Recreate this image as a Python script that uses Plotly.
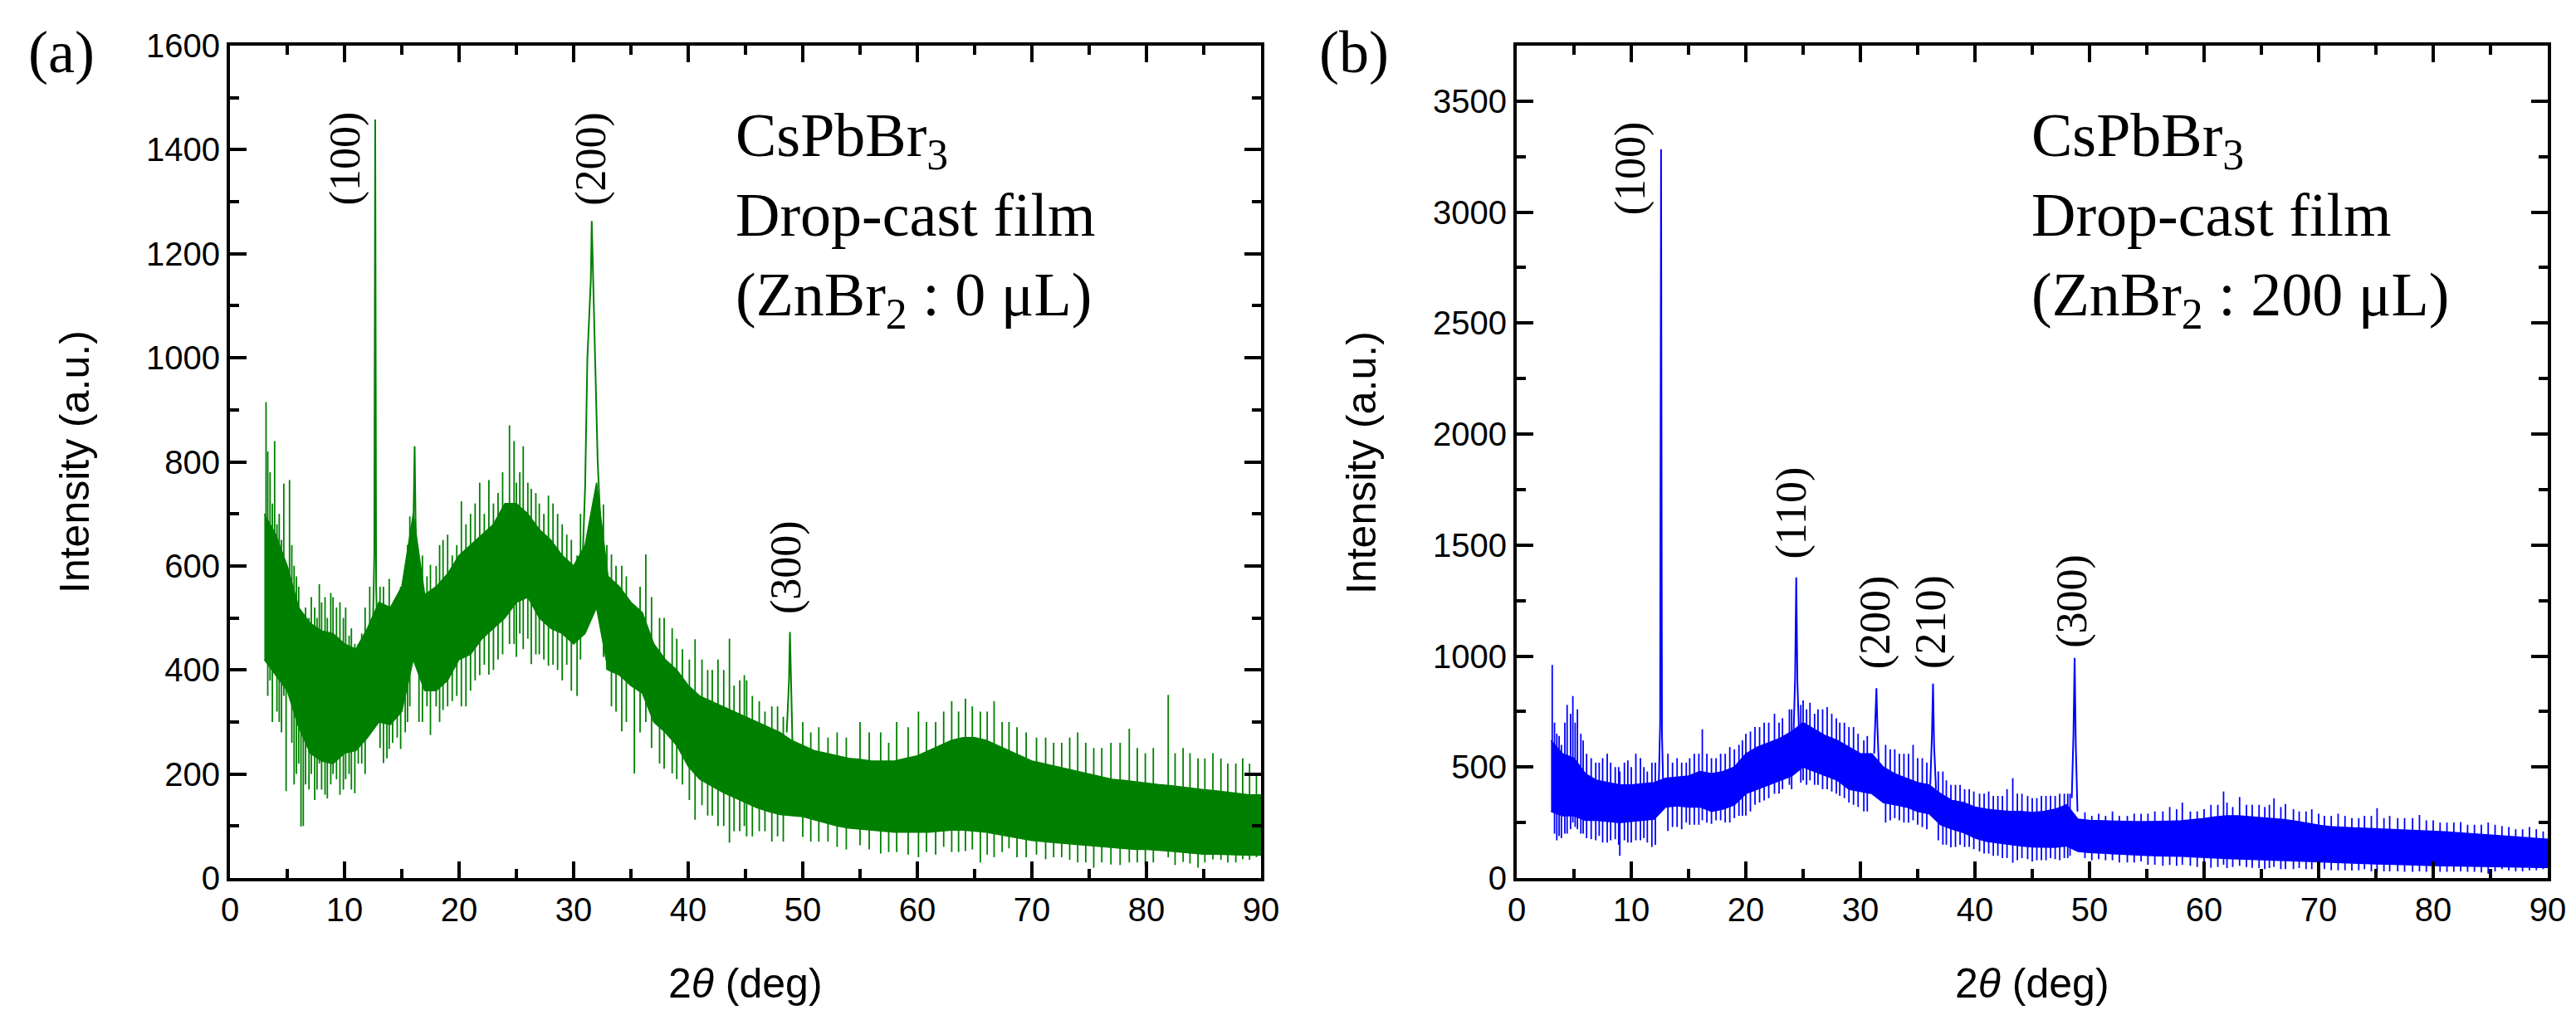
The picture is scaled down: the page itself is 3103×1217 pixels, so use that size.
import plotly.graph_objects as go

# ---- panel (a): ZnBr2 0 uL, green ----
env_x = list(range(3, 91))  # 2theta grid for the dense noise band

a_hi = [700, 660, 600, 520, 490, 475, 470, 450, 440, 480, 530, 520, 560, 700, 545, 560, 585, 620,
        640, 660, 680, 720, 720, 700, 670, 650, 620, 600, 640, 760, 580, 560, 530, 510, 450, 420,
        400, 370, 350, 340, 330, 320, 310, 300, 290, 280, 265, 255, 245, 240, 235, 230, 228, 225,
        225, 225, 230, 235, 245, 255, 265, 270, 270, 265, 255, 245, 235, 225, 220, 215, 210, 205,
        200, 195, 190, 188, 185, 182, 180, 178, 175, 172, 170, 168, 165, 162, 160, 160]
a_lo = [420, 390, 360, 290, 240, 225, 220, 240, 245, 270, 300, 295, 320, 420, 360, 360, 380, 420,
        430, 460, 480, 500, 530, 540, 500, 480, 470, 450, 470, 520, 400, 390, 370, 355, 300, 280,
        255, 215, 190, 178, 165, 155, 145, 135, 128, 122, 120, 118, 112, 106, 100, 96, 94, 92,
        90, 88, 88, 88, 88, 90, 92, 92, 90, 88, 84, 80, 76, 72, 70, 68, 66, 64,
        62, 60, 58, 56, 55, 55, 54, 52, 50, 48, 46, 46, 45, 44, 44, 44]

# single noise strokes sticking out of the band: position, bottom, top
a_stroke_x = [3.15, 3.5, 3.9, 4.3, 4.7, 5.2, 5.6, 6.0, 6.4, 6.9, 7.4, 7.8, 8.3, 8.8, 9.3, 9.9, 10.4,
              10.9, 11.5, 13.4, 13.9, 14.6, 15.3, 15.7, 16.5, 17.5, 18.6, 19.4, 20.2, 21.0, 21.8,
              22.6, 23.4, 24.4, 25.0, 25.6, 26.3, 27.0, 27.8, 28.6, 29.4, 30.3, 32.6, 33.3, 34.2,
              35.3, 36.3, 37.5, 38.6, 39.5, 40.6, 41.7, 42.6, 43.6, 44.5, 45.1, 46.2, 47.3, 50.0,
              51.4, 53.0, 55.0, 56.8, 58.2, 60.1, 61.6, 63.0, 64.2, 65.5, 66.7, 68.0, 69.5, 71.2,
              72.6, 74.0, 75.4, 76.9, 78.5, 79.9, 81.9, 83.2, 84.5, 85.8, 87.1, 88.4, 89.6,
              3.3, 3.7, 4.1, 4.5, 4.9, 5.4, 5.8, 6.2, 6.6, 7.1, 7.6, 8.0, 8.5, 9.0, 9.6, 10.1, 10.6,
              11.2, 11.8, 12.2, 13.1, 13.7, 14.2, 14.9, 15.5, 16.8, 17.2, 18.0, 18.3, 19.0, 19.8,
              20.6, 21.4, 22.2, 23.0, 23.8, 24.8, 25.3, 26.0, 26.7, 27.4, 28.2, 29.0, 29.8, 30.6,
              32.9, 33.7, 34.6, 35.8, 36.8, 37.9, 39.0, 40.1, 41.2, 42.1, 43.1, 44.0, 44.9, 45.6,
              46.7, 47.8, 48.3, 50.7, 52.2, 53.8, 55.8, 57.5, 59.2, 60.8, 62.3, 63.6, 64.8, 66.1,
              67.4, 68.7, 70.4, 71.9, 73.3, 74.7, 76.1, 77.7, 79.2, 80.6, 82.5, 83.8, 85.1, 86.5,
              87.8, 89.0]
a_stroke_lo = [420, 380, 420, 300, 350, 380, 180, 220, 100, 170, 150, 220, 160, 180, 190, 170, 200,
               163, 220, 221, 248, 270, 280, 330, 300, 275, 323, 340, 330, 360, 390, 391, 420, 450,
               425, 440, 411, 430, 408, 400, 410, 350, 425, 330, 282, 201, 300, 220, 201, 180, 112,
               120, 100, 68, 90, 80, 90, 70, 79, 70, 60, 63, 47, 50, 40, 45, 50, 52, 30, 40, 57, 40,
               36, 40, 30, 20, 26, 30, 25, 40, 31, 20, 36, 30, 36, 40,
               350, 300, 320, 280, 167, 260, 200, 99, 180, 200, 170, 170, 153, 200, 160, 190, 170,
               220, 200, 300, 250, 230, 260, 248, 300, 300, 330, 330, 300, 330, 350, 330, 380, 410,
               400, 430, 450, 470, 460, 430, 420, 410, 380, 360, 420, 400, 320, 300, 280, 250, 210,
               190, 150, 140, 120, 100, 90, 100, 80, 90, 80, 70, 70, 70, 55, 55, 50, 45, 50, 60, 50,
               55, 45, 50, 40, 45, 40, 35, 30, 30, 25, 30, 30, 25, 28, 30, 35, 30, 35]
a_stroke_hi = [915, 780, 840, 700, 758, 765, 600, 560, 450, 500, 520, 565, 540, 548, 520, 500, 466,
               450, 470, 560, 575, 540, 600, 695, 600, 602, 650, 620, 724, 700, 760, 765, 740, 870,
               760, 830, 748, 720, 735, 700, 660, 620, 718, 622, 600, 520, 622, 500, 480, 440, 459,
               400, 420, 460, 380, 380, 340, 330, 300, 290, 280, 300, 280, 300, 320, 300, 340, 345,
               320, 340, 300, 280, 270, 260, 280, 250, 260, 287, 240, 352, 250, 230, 240, 220, 230,
               200,
               820, 720, 680, 650, 560, 640, 580, 480, 520, 540, 500, 530, 500, 540, 530, 520, 480,
               450, 520, 560, 560, 520, 500, 560, 640, 620, 580, 600, 640, 660, 640, 680, 720, 700,
               720, 780, 840, 780, 760, 740, 700, 720, 680, 650, 700, 640, 600, 580, 560, 540, 500,
               460, 420, 420, 400, 400, 370, 390, 350, 320, 330, 310, 280, 270, 270, 280, 260, 290,
               300, 320, 320, 330, 320, 300, 290, 270, 260, 270, 260, 250, 260, 250, 250, 240, 240,
               230, 230, 220, 220]

# Bragg peaks
a_peak_x = [[12.45, 12.6, 12.68, 12.76, 12.9],
            [15.9, 16.05, 16.12, 16.2, 16.4],
            [30.7, 31.0, 31.2, 31.35, 31.5, 31.58, 31.7, 31.85, 32.1, 32.4],
            [48.6, 48.8, 48.88, 48.95, 49.1]]
a_peak_y = [[450, 620, 1458, 560, 430],
            [520, 700, 830, 690, 520],
            [560, 750, 1000, 1080, 1150, 1263, 1170, 1020, 800, 650],
            [280, 380, 473, 390, 260]]

a_label_text = ['(100)', '(200)', '(300)']
a_label_x = [10.1, 31.5, 48.5]
a_label_y = [1383, 1383, 597]

# ---- panel (b): ZnBr2 200 uL, blue ----
b_hi = [620, 560, 540, 470, 440, 430, 420, 420, 425, 430, 450, 455, 460, 480, 470, 480, 500, 560,
        590, 610, 630, 660, 700, 670, 640, 620, 590, 560, 560, 500, 470, 450, 430, 420, 380, 350,
        340, 320, 310, 305, 300, 300, 295, 300, 310, 330, 265, 260, 258, 258, 256, 254, 254, 254,
        256, 258, 262, 268, 276, 280, 280, 276, 272, 270, 264, 256, 246, 238, 232, 228, 226, 224,
        222, 220, 218, 216, 214, 211, 208, 205, 201, 197, 193, 189, 185, 181, 177, 175]
b_lo = [300, 280, 280, 260, 260, 255, 250, 255, 260, 265, 320, 325, 320, 320, 300, 310, 330, 380,
        400, 420, 440, 460, 500, 480, 460, 440, 400, 390, 380, 340, 330, 320, 300, 290, 240, 220,
        205, 180, 165, 158, 150, 145, 140, 138, 138, 145, 120, 115, 112, 110, 108, 105, 102, 100,
        100, 98, 95, 92, 90, 88, 86, 84, 82, 80, 78, 76, 74, 72, 70, 68, 66, 65,
        64, 63, 62, 60, 58, 56, 55, 54, 53, 52, 50, 50, 49, 48, 48, 48]

b_stroke_x = [3.1, 3.5, 3.9, 4.4, 4.9, 5.3, 5.8, 6.5, 7.2, 7.9, 8.6, 9.0, 9.7, 10.4, 11.1, 11.8,
              13.2, 14.0, 14.8, 15.5, 16.2, 17.0, 17.8, 18.6, 19.4, 20.0, 20.8, 21.6, 22.5, 23.2,
              23.8, 25.0, 25.6, 26.3, 27.1, 27.9, 28.6, 29.4, 30.6, 32.2, 33.0, 33.8, 34.6, 35.4,
              37.2, 37.9, 38.7, 39.5, 40.4, 41.2, 42.0, 42.8, 43.3, 44.1, 45.0, 45.8, 46.6, 47.4,
              48.1, 49.6, 50.8, 52.0, 53.3, 54.5, 55.7, 57.0, 58.1, 59.4, 60.6, 61.7, 62.5, 63.1,
              64.2, 65.3, 66.1, 67.1, 68.3, 69.4, 70.5, 71.7, 72.9, 74.0, 75.1, 76.2, 77.5, 78.8,
              80.0, 81.2, 82.4, 83.6, 84.8, 86.0, 87.2, 88.4, 89.6,
              3.3, 3.7, 4.2, 4.7, 5.1, 5.6, 6.1, 6.9, 7.5, 8.2, 8.9, 9.4, 10.0, 10.8, 11.4, 12.1,
              13.6, 14.4, 15.1, 15.9, 16.6, 17.4, 18.2, 19.0, 19.7, 20.4, 21.2, 22.0, 22.9, 24.0,
              24.8, 25.3, 26.0, 26.7, 27.5, 28.2, 29.0, 29.8, 30.3, 32.6, 33.4, 34.2, 35.0, 35.8,
              36.8, 37.5, 38.3, 39.1, 39.9, 40.8, 41.6, 42.4, 43.7, 44.6, 45.4, 46.2, 47.0, 47.8,
              48.3, 50.2, 51.4, 52.6, 53.9, 55.1, 56.4, 57.6, 58.8, 60.0, 61.2, 62.0, 63.7, 64.8,
              65.7, 66.7, 67.8, 68.9, 70.0, 71.1, 72.3, 73.5, 74.6, 75.7, 76.9, 78.2, 79.4, 80.6,
              81.8, 83.0, 84.2, 85.4, 86.6, 87.8, 89.0]
b_stroke_lo = [350, 170, 180, 200, 250, 220, 200, 175, 190, 160, 175, 100, 160, 170, 180, 140, 212,
               230, 250, 240, 260, 244, 260, 250, 280, 281, 330, 350, 380, 400, 420, 440, 440, 420,
               400, 380, 360, 330, 300, 250, 270, 250, 260, 230, 150, 138, 150, 140, 120, 110, 100,
               90, 69, 90, 75, 80, 90, 80, 90, 90, 85, 80, 70, 75, 60, 59, 60, 50, 46, 60, 50, 55,
               46, 40, 50, 40, 45, 40, 40, 35, 34, 40, 30, 30, 28, 30, 28, 28, 30, 28, 20, 40, 30,
               35, 40,
               200, 190, 200, 220, 230, 200, 180, 170, 160, 170, 150, 170, 160, 170, 160, 150, 230,
               220, 240, 240, 250, 260, 250, 270, 280, 300, 340, 360, 380, 400, 430, 420, 420, 400,
               390, 370, 340, 320, 300, 260, 260, 250, 240, 220, 170, 150, 140, 140, 130, 110, 100,
               90, 80, 85, 80, 80, 85, 90, 100, 80, 80, 70, 70, 60, 55, 55, 55, 50, 50, 45, 50, 45,
               45, 40, 40, 40, 38, 35, 35, 35, 30, 30, 30, 28, 28, 28, 28, 28, 25, 30, 35, 30, 35]
b_stroke_hi = [960, 650, 600, 780, 820, 760, 620, 540, 520, 560, 500, 480, 530, 560, 500, 520, 560,
               540, 520, 560, 670, 540, 560, 590, 600, 650, 680, 700, 740, 720, 760, 800, 790, 760,
               770, 720, 700, 680, 640, 600, 580, 560, 600, 540, 480, 420, 420, 400, 380, 390, 370,
               400, 450, 380, 360, 370, 371, 380, 380, 296, 290, 300, 280, 290, 300, 320, 340, 300,
               330, 390, 320, 365, 330, 320, 359, 334, 300, 310, 280, 290, 270, 280, 315, 280, 270,
               284, 260, 250, 252, 240, 250, 234, 220, 230, 210,
               700, 640, 700, 740, 700, 650, 560, 520, 540, 520, 500, 520, 500, 540, 480, 520, 520,
               520, 540, 560, 560, 540, 560, 580, 620, 660, 680, 700, 700, 760, 780, 760, 740, 760,
               740, 700, 680, 650, 620, 580, 560, 560, 540, 520, 480, 440, 420, 400, 390, 380, 370,
               370, 380, 370, 360, 370, 370, 380, 380, 280, 280, 280, 290, 290, 300, 310, 300, 310,
               330, 340, 330, 330, 330, 320, 310, 300, 290, 280, 280, 270, 280, 270, 270, 270, 260,
               250, 250, 240, 240, 240, 230, 220, 220]

b_peak_x = [[12.4, 12.52, 12.6, 12.68, 12.8],
            [24.15, 24.3, 24.4, 24.5, 24.65],
            [31.2, 31.32, 31.4, 31.48, 31.6],
            [36.1, 36.25, 36.34, 36.43, 36.6],
            [48.45, 48.6, 48.7, 48.8, 48.95]]
b_peak_y = [[420, 700, 3283, 650, 380],
            [620, 900, 1354, 880, 650],
            [560, 700, 855, 690, 520],
            [420, 650, 876, 600, 400],
            [360, 650, 992, 600, 300]]

b_label_text = ['(100)', '(110)', '(200)', '(210)', '(300)']
b_label_x = [9.9, 24.0, 31.3, 36.2, 48.5]
b_label_y = [3198, 1644, 1154, 1154, 1247]

SANS = 'Liberation Sans'
SERIF = 'Liberation Serif'
W, H = 3103, 1217

fig = go.Figure()


def add_panel(xa, ya, color, hi, lo, sx, slo, shi, px, py):
    # dense band
    fig.add_trace(go.Scatter(x=env_x, y=hi, mode='lines', line=dict(color=color, width=1.5),
                             xaxis=xa, yaxis=ya, showlegend=False, hoverinfo='skip'))
    fig.add_trace(go.Scatter(x=env_x, y=lo, mode='lines', line=dict(color=color, width=1.5),
                             fill='tonexty', fillcolor=color, xaxis=xa, yaxis=ya,
                             showlegend=False, hoverinfo='skip'))
    # strokes
    xs, ys = [], []
    for x, l, h in zip(sx, slo, shi):
        xs += [x, x, None]
        ys += [l, h, None]
    fig.add_trace(go.Scatter(x=xs, y=ys, mode='lines', line=dict(color=color, width=1.8),
                             xaxis=xa, yaxis=ya, showlegend=False, hoverinfo='skip'))
    # peaks
    for x, y in zip(px, py):
        fig.add_trace(go.Scatter(x=x, y=y, mode='lines', line=dict(color=color, width=2),
                                 xaxis=xa, yaxis=ya, showlegend=False))


add_panel('x', 'y', '#008000', a_hi, a_lo, a_stroke_x, a_stroke_lo, a_stroke_hi, a_peak_x, a_peak_y)
add_panel('x2', 'y2', '#0000FF', b_hi, b_lo, b_stroke_x, b_stroke_lo, b_stroke_hi, b_peak_x, b_peak_y)

ydom = [1 - 1050 / H, 1 - 47 / H]
axis_common = dict(showline=True, linewidth=4, linecolor='black', mirror='allticks',
                   ticks='inside', ticklen=20, tickwidth=4, tickcolor='black',
                   showgrid=False, zeroline=False, automargin=False,
                   tickfont=dict(family=SANS, size=40, color='black'))

fig.update_layout(
    template='none',
    width=W, height=H, margin=dict(l=0, r=0, t=0, b=0),
    paper_bgcolor='white', plot_bgcolor='white',
    xaxis=dict(domain=[269 / W, 1511 / W], range=[0, 90], dtick=10, anchor='y',
               minor=dict(dtick=5, ticklen=11, tickwidth=4, ticks='inside', tickcolor='black'),
               **axis_common),
    yaxis=dict(domain=ydom, range=[0, 1600], dtick=200, anchor='x',
               minor=dict(dtick=100, ticklen=11, tickwidth=4, ticks='inside', tickcolor='black'),
               **axis_common),
    xaxis2=dict(domain=[1819 / W, 3061 / W], range=[0, 90], dtick=10, anchor='y2',
                minor=dict(dtick=5, ticklen=11, tickwidth=4, ticks='inside', tickcolor='black'),
                **axis_common),
    yaxis2=dict(domain=ydom, range=[0, 3750], dtick=500, anchor='x2',
                minor=dict(dtick=250, ticklen=11, tickwidth=4, ticks='inside', tickcolor='black'),
                **axis_common),
)


def paper_text(txt, px_, py_, size, family, angle=0):
    return dict(text=txt, x=px_ / W, y=1 - py_ / H, xref='paper', yref='paper',
                xanchor='center', yanchor='middle', textangle=angle, showarrow=False,
                font=dict(family=family, size=size, color='black'))


ann = []
# panel letters
ann.append(paper_text('(a)', 66, 55, 72, SERIF))
ann.append(paper_text('(b)', 1623, 55, 72, SERIF))
# sample description
for txt, px_ in [('CsPbBr<sub>3</sub><br>Drop-cast film<br>(ZnBr<sub>2</sub> : 0 μL)', 876),
                 ('CsPbBr<sub>3</sub><br>Drop-cast film<br>(ZnBr<sub>2</sub> : 200 μL)', 2437)]:
    ann.append(dict(text=txt, x=px_ / W, y=1 - 112 / H, xref='paper', yref='paper',
                    xanchor='left', yanchor='top', align='left', showarrow=False,
                    font=dict(family=SERIF, size=74, color='black')))
# axis titles
for cx in [890, 2440]:
    ann.append(paper_text('2<i>θ</i> (deg)', cx, 1177, 50, SANS))
for cx in [82, 1632]:
    ann.append(paper_text('Intensity (a.u.)', cx, 549, 50, SANS, angle=-90))
# peak indices
for t, x, y in zip(a_label_text, a_label_x, a_label_y):
    ann.append(dict(text=t, x=x, y=y, xref='x', yref='y', textangle=-90, showarrow=False,
                    xanchor='center', yanchor='middle',
                    font=dict(family=SERIF, size=52, color='black')))
for t, x, y in zip(b_label_text, b_label_x, b_label_y):
    ann.append(dict(text=t, x=x, y=y, xref='x2', yref='y2', textangle=-90, showarrow=False,
                    xanchor='center', yanchor='middle',
                    font=dict(family=SERIF, size=52, color='black')))
fig.update_layout(annotations=ann)

fig.write_html("out.html")
